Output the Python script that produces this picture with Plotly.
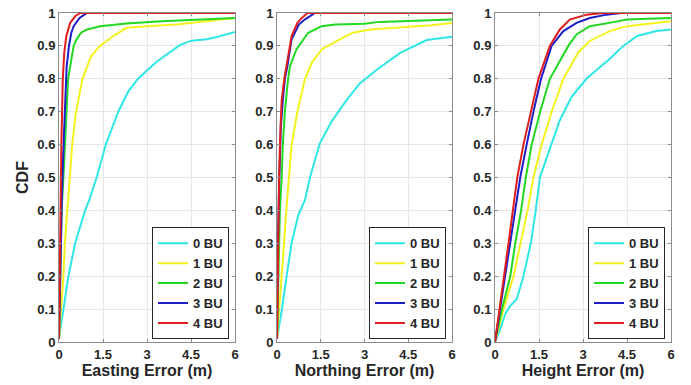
import plotly.graph_objects as go

# ---------------- data ----------------
series_names = ["0 BU", "1 BU", "2 BU", "3 BU", "4 BU"]
series_colors = ["#2ee6e6", "#f2f21e", "#22d822", "#1e1ec8", "#e01e1e"]

x_ticks = [0, 1.5, 3, 4.5, 6]
x_tick_labels = ["0", "1.5", "3", "4.5", "6"]
y_ticks = [0, 0.1, 0.2, 0.3, 0.4, 0.5, 0.6, 0.7, 0.8, 0.9, 1]
y_tick_labels = ["0", "0.1", "0.2", "0.3", "0.4", "0.5", "0.6", "0.7", "0.8", "0.9", "1"]

panel_titles = ["Easting Error (m)", "Northing Error (m)", "Height Error (m)"]

# Easting error CDFs
east_0bu_x = [0, 0.07, 0.15, 0.32, 0.55, 0.89, 1.03, 1.28, 1.6, 2.02, 2.36, 2.7, 3.33, 4.13, 4.52, 5.04, 5.34, 6]
east_0bu_y = [0.01, 0.05, 0.1, 0.2, 0.3, 0.4, 0.431, 0.499, 0.601, 0.7, 0.761, 0.801, 0.852, 0.903, 0.916, 0.92, 0.926, 0.942]
east_1bu_x = [0, 0.07, 0.15, 0.2, 0.28, 0.37, 0.45, 0.58, 0.8, 1.1, 1.4, 1.85, 2.3, 3.0, 4.0, 5.0, 6]
east_1bu_y = [0.01, 0.1, 0.2, 0.3, 0.4, 0.5, 0.6, 0.7, 0.8, 0.87, 0.9, 0.93, 0.955, 0.96, 0.965, 0.975, 0.985]
east_2bu_x = [0, 0.04, 0.09, 0.15, 0.2, 0.24, 0.31, 0.5, 0.6, 0.75, 0.96, 1.4, 2.3, 3.5, 5.0, 6]
east_2bu_y = [0.01, 0.2, 0.4, 0.5, 0.6, 0.7, 0.8, 0.9, 0.92, 0.94, 0.95, 0.96, 0.968, 0.975, 0.98, 0.985]
east_3bu_x = [0, 0.04, 0.1, 0.17, 0.26, 0.34, 0.42, 0.5, 0.7, 0.95, 6]
east_3bu_y = [0.01, 0.2, 0.45, 0.635, 0.836, 0.9, 0.94, 0.96, 0.985, 1, 1]
east_4bu_x = [0, 0.03, 0.08, 0.13, 0.18, 0.25, 0.38, 0.55, 0.72, 6]
east_4bu_y = [0.01, 0.3, 0.6, 0.8, 0.88, 0.93, 0.97, 0.99, 1, 1]

# Northing error CDFs
north_0bu_x = [0, 0.08, 0.17, 0.33, 0.5, 0.73, 0.96, 1.13, 1.47, 1.87, 2.39, 2.84, 3.41, 4.21, 5.13, 6]
north_0bu_y = [0.01, 0.05, 0.1, 0.2, 0.3, 0.386, 0.432, 0.5, 0.604, 0.67, 0.736, 0.786, 0.827, 0.878, 0.918, 0.928]
north_1bu_x = [0, 0.08, 0.16, 0.24, 0.32, 0.41, 0.5, 0.7, 0.96, 1.2, 1.54, 2.15, 2.6, 3.2, 4.0, 4.65, 5.3, 6]
north_1bu_y = [0.01, 0.1, 0.2, 0.3, 0.4, 0.5, 0.6, 0.7, 0.8, 0.85, 0.89, 0.92, 0.94, 0.95, 0.955, 0.96, 0.963, 0.97]
north_2bu_x = [0, 0.04, 0.1, 0.16, 0.2, 0.27, 0.38, 0.45, 0.67, 1.07, 1.53, 2.0, 3.0, 3.5, 4.5, 6]
north_2bu_y = [0.01, 0.2, 0.4, 0.5, 0.6, 0.7, 0.8, 0.84, 0.89, 0.94, 0.96, 0.965, 0.967, 0.973, 0.976, 0.98]
north_3bu_x = [0, 0.03, 0.08, 0.13, 0.2, 0.27, 0.36, 0.5, 0.75, 0.95, 1.3, 6]
north_3bu_y = [0.01, 0.3, 0.5, 0.65, 0.735, 0.8, 0.84, 0.92, 0.965, 0.98, 1, 1]
north_4bu_x = [0, 0.03, 0.07, 0.12, 0.16, 0.25, 0.33, 0.5, 0.7, 0.85, 1.05, 6]
north_4bu_y = [0.01, 0.3, 0.5, 0.65, 0.735, 0.8, 0.84, 0.93, 0.97, 0.985, 1, 1]

# Height error CDFs
height_0bu_x = [0, 0.18, 0.35, 0.52, 0.74, 0.91, 0.97, 1.22, 1.39, 1.53, 1.93, 2.21, 2.61, 3.12, 3.57, 3.91, 4.37, 4.85, 5.5, 6]
height_0bu_y = [0, 0.04, 0.085, 0.11, 0.13, 0.18, 0.2, 0.3, 0.4, 0.5, 0.6, 0.674, 0.745, 0.8, 0.835, 0.86, 0.9, 0.93, 0.945, 0.95]
height_1bu_x = [0, 0.29, 0.63, 0.86, 1.11, 1.31, 1.59, 1.93, 2.33, 2.84, 3.23, 3.91, 4.5, 6]
height_1bu_y = [0, 0.1, 0.2, 0.3, 0.4, 0.5, 0.6, 0.7, 0.8, 0.88, 0.915, 0.945, 0.96, 0.975]
height_2bu_x = [0, 0.24, 0.52, 0.69, 0.89, 1.05, 1.25, 1.54, 1.87, 2.5, 2.78, 3.23, 3.9, 4.5, 6]
height_2bu_y = [0, 0.1, 0.2, 0.3, 0.4, 0.5, 0.6, 0.7, 0.8, 0.9, 0.935, 0.96, 0.97, 0.98, 0.985]
height_3bu_x = [0, 0.17, 0.33, 0.5, 0.68, 0.86, 1.08, 1.31, 1.57, 1.93, 2.33, 2.78, 3.23, 3.8, 4.3, 6]
height_3bu_y = [0, 0.1, 0.2, 0.3, 0.4, 0.5, 0.6, 0.7, 0.8, 0.9, 0.945, 0.97, 0.985, 0.995, 1, 1]
height_4bu_x = [0, 0.16, 0.31, 0.46, 0.61, 0.76, 0.97, 1.22, 1.48, 1.87, 2.21, 2.55, 3.12, 3.68, 6]
height_4bu_y = [0, 0.1, 0.2, 0.3, 0.4, 0.5, 0.6, 0.7, 0.8, 0.9, 0.95, 0.98, 0.995, 1, 1]

panels = [
    [(east_0bu_x, east_0bu_y), (east_1bu_x, east_1bu_y), (east_2bu_x, east_2bu_y),
     (east_3bu_x, east_3bu_y), (east_4bu_x, east_4bu_y)],
    [(north_0bu_x, north_0bu_y), (north_1bu_x, north_1bu_y), (north_2bu_x, north_2bu_y),
     (north_3bu_x, north_3bu_y), (north_4bu_x, north_4bu_y)],
    [(height_0bu_x, height_0bu_y), (height_1bu_x, height_1bu_y), (height_2bu_x, height_2bu_y),
     (height_3bu_x, height_3bu_y), (height_4bu_x, height_4bu_y)],
]

# ---------------- figure ----------------
W, H = 691, 385
FONT = "Arial, 'Liberation Sans', sans-serif"
TXT = "#262626"
AX = "#8c8c8c"

plot_top, plot_bottom = 13, 342
panel_px = [(59, 235), (277, 452), (495, 671)]
domains = [(a / W, b / W) for a, b in panel_px]
legend_names = ["legend", "legend2", "legend3"]

fig = go.Figure()
for p, series in enumerate(panels):
    xa = "x" if p == 0 else f"x{p + 1}"
    ya = "y" if p == 0 else f"y{p + 1}"
    for (xs, ys), name, color in zip(series, series_names, series_colors):
        fig.add_trace(go.Scatter(
            x=xs, y=ys, mode="lines", name=name,
            line=dict(color=color, width=2),
            xaxis=xa, yaxis=ya, legend=legend_names[p],
        ))

layout = dict(
    width=W, height=H,
    margin=dict(l=0, r=0, t=plot_top, b=H - plot_bottom),
    paper_bgcolor="white", plot_bgcolor="white",
    font=dict(family=FONT, color=TXT, size=13, weight="bold"),
    showlegend=True,
)

for p in range(3):
    xk = "xaxis" if p == 0 else f"xaxis{p + 1}"
    yk = "yaxis" if p == 0 else f"yaxis{p + 1}"
    ya = "y" if p == 0 else f"y{p + 1}"
    xa = "x" if p == 0 else f"x{p + 1}"
    layout[xk] = dict(
        domain=list(domains[p]), anchor=ya, range=[0, 6],
        tickvals=x_ticks, ticktext=x_tick_labels,
        showgrid=True, gridcolor="#e6e6e6", gridwidth=1,
        showline=True, linecolor=AX, linewidth=1, mirror="ticks",
        ticks="inside", ticklen=3, tickcolor=AX,
        zeroline=False, ticklabeloverflow="allow",
        tickfont=dict(family=FONT, size=13, color=TXT, weight="bold"),
        title=dict(text=panel_titles[p], standoff=4,
                   font=dict(family=FONT, size=16, color=TXT, weight="bold")),
        automargin=False,
    )
    layout[yk] = dict(
        domain=[0, 1], anchor=xa, range=[0, 1],
        tickvals=y_ticks, ticktext=y_tick_labels,
        showgrid=True, gridcolor="#e6e6e6", gridwidth=1,
        showline=True, linecolor=AX, linewidth=1, mirror="ticks",
        ticks="inside", ticklen=3, tickcolor=AX,
        zeroline=False, ticklabeloverflow="allow",
        tickfont=dict(family=FONT, size=13, color=TXT, weight="bold"),
        automargin=False,
    )
    if p == 0:
        layout[yk]["title"] = dict(text="CDF", standoff=4,
                                   font=dict(family=FONT, size=16, color=TXT, weight="bold"))
    layout[legend_names[p]] = dict(
        x=(panel_px[p][1] - 6) / W, xanchor="right",
        y=0.008, yanchor="bottom",
        bgcolor="white", bordercolor="#262626", borderwidth=1,
        font=dict(family=FONT, size=13, color=TXT, weight="bold"),
        tracegroupgap=0, itemwidth=30,
    )

fig.update_layout(**layout)
# remove the browser's default 8px page margin so the figure fills the window exactly
fig.write_html("out.html", config={"displayModeBar": False},
               post_script="document.body.style.margin='0px';")
